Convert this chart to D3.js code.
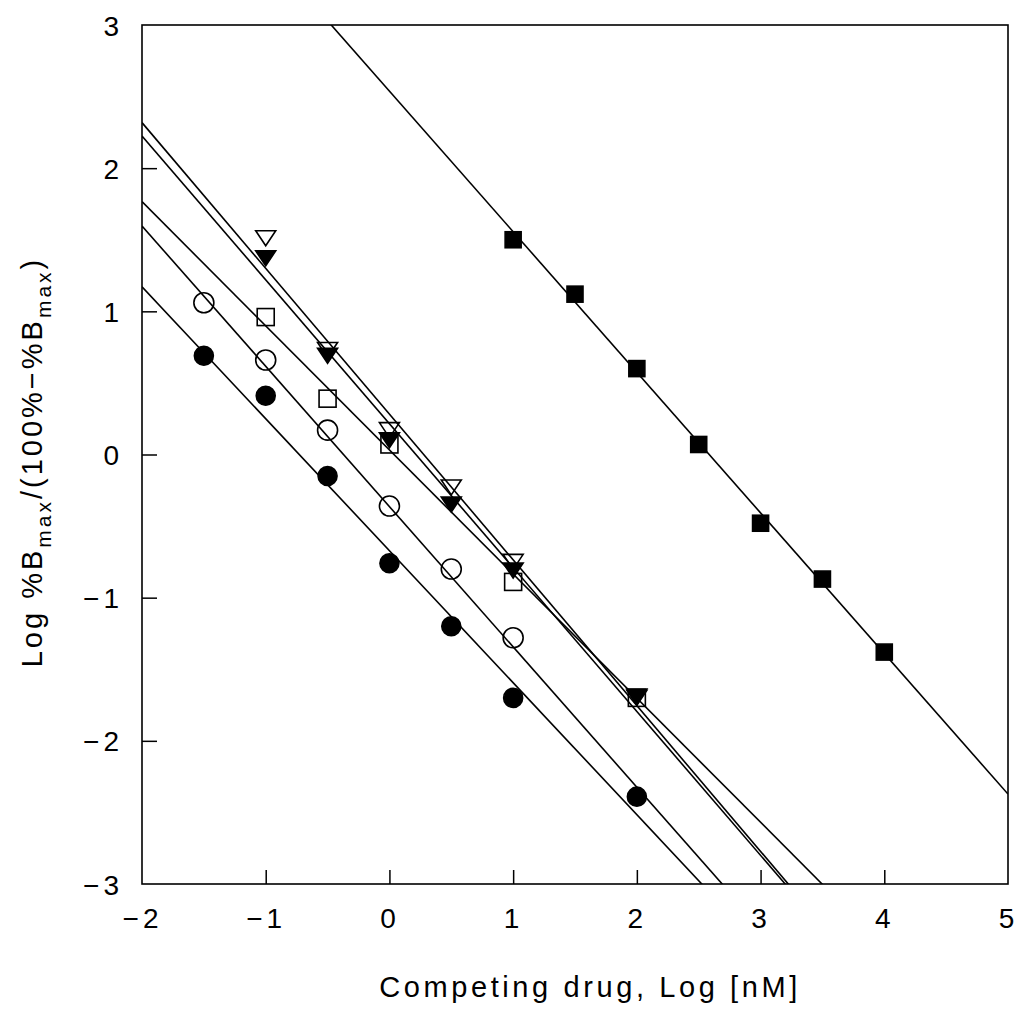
<!DOCTYPE html>
<html>
<head>
<meta charset="utf-8">
<script src="https://cdn.jsdelivr.net/npm/d3@7"></script>
<style>
  html, body { margin: 0; padding: 0; background: #fff; }
  svg { display: block; }
  text { font-family: "Liberation Sans", Arial, sans-serif; fill: #000; }
</style>
</head>
<body>
<svg id="chart" width="1026" height="1011"></svg>
<script>
// ---------- data ----------
const xTicks = [-2, -1, 0, 1, 2, 3, 4, 5];
const yTicks = [-3, -2, -1, 0, 1, 2, 3];

const xFilledSquare = [1, 1.5, 2, 2.5, 3, 3.5, 4];
const yFilledSquare = [1.50, 1.12, 0.60, 0.07, -0.48, -0.87, -1.38];

const xFilledCircle = [-1.5, -1, -0.5, 0, 0.5, 1, 2];
const yFilledCircle = [0.69, 0.41, -0.15, -0.76, -1.20, -1.70, -2.39];

const xOpenCircle = [-1.5, -1, -0.5, 0, 0.5, 1];
const yOpenCircle = [1.06, 0.66, 0.17, -0.36, -0.80, -1.28];

const xOpenSquare = [-1, -0.5, 0, 1, 2];
const yOpenSquare = [0.96, 0.39, 0.07, -0.89, -1.70];

const xOpenTriangle = [-1, -0.5, 0, 0.5, 1, 2];
const yOpenTriangle = [1.51, 0.73, 0.17, -0.23, -0.75, -1.69];

const xFilledTriangle = [-1, -0.5, 0, 0.5, 1, 2];
const yFilledTriangle = [1.37, 0.69, 0.10, -0.35, -0.81, -1.70];

// regression lines: intercept (at x = 0) and slope
const lineNames      = ["filledSquare", "filledCircle", "openCircle", "openSquare", "openTriangle", "filledTriangle"];
const lineIntercepts = [2.538, -0.672, -0.364, 0.032, 0.282, 0.215];
const lineSlopes     = [-0.982, -0.922, -0.980, -0.867, -1.018, -1.005];

// ---------- layout ----------
const svg = d3.select("#chart");
const mLeft = 142, mRight = 1008, mTop = 25, mBottom = 884;

const x = d3.scaleLinear().domain([-2, 5]).range([mLeft, mRight]);
const y = d3.scaleLinear().domain([-3, 3]).range([mBottom, mTop]);

svg.append("defs").append("clipPath").attr("id", "plotclip")
  .append("rect").attr("x", mLeft).attr("y", mTop)
  .attr("width", mRight - mLeft).attr("height", mBottom - mTop);

// ---------- axes ----------
const fmt = d => d < 0 ? "\u2212" + Math.abs(d) : String(d);

const xAxis = svg.append("g").attr("transform", `translate(0,${mBottom})`)
  .call(d3.axisBottom(x).tickValues(xTicks).tickSizeInner(-14).tickSizeOuter(0).tickFormat(fmt));
xAxis.select(".domain").remove();
xAxis.selectAll(".tick line").attr("stroke", "#000").attr("stroke-width", 1.5);
xAxis.selectAll(".tick text").attr("y", 44).attr("dy", 0)
  .style("font-size", "28px").attr("letter-spacing", "4px");

const yAxis = svg.append("g").attr("transform", `translate(${mLeft},0)`)
  .call(d3.axisLeft(y).tickValues(yTicks).tickSizeInner(-15).tickSizeOuter(0).tickFormat(fmt));
yAxis.select(".domain").remove();
yAxis.selectAll(".tick line").attr("stroke", "#000").attr("stroke-width", 1.5);
yAxis.selectAll(".tick text").attr("x", -19).attr("dy", "0.36em")
  .style("font-size", "28px").attr("letter-spacing", "4px");
xAxis.selectAll(".tick").filter(d => d === -2 || d === 5).select("line").remove();
yAxis.selectAll(".tick").filter(d => d === -3 || d === 3).select("line").remove();

// frame
svg.append("rect").attr("x", mLeft).attr("y", mTop)
  .attr("width", mRight - mLeft).attr("height", mBottom - mTop)
  .attr("fill", "none").attr("stroke", "#000").attr("stroke-width", 1.6);

// ---------- fitted lines ----------
const plot = svg.append("g").attr("clip-path", "url(#plotclip)");
const lineGen = d3.line().x(d => x(d[0])).y(d => y(d[1]));
lineNames.forEach((n, i) => {
  const pts = [-2, 5].map(v => [v, lineIntercepts[i] + lineSlopes[i] * v]);
  plot.append("path").attr("d", lineGen(pts))
    .attr("fill", "none").attr("stroke", "#000").attr("stroke-width", 1.6);
});

// ---------- markers ----------
const zip = (xs, ys) => xs.map((v, i) => [v, ys[i]]);
const markers = svg.append("g");

function circles(data, filled) {
  markers.selectAll(null).data(data).enter().append("circle")
    .attr("cx", d => x(d[0])).attr("cy", d => y(d[1])).attr("r", filled ? 9.5 : 10)
    .attr("fill", filled ? "#000" : "none").attr("stroke", "#000").attr("stroke-width", 1.6);
}
function squares(data, filled, s) {
  markers.selectAll(null).data(data).enter().append("rect")
    .attr("x", d => x(d[0]) - s / 2).attr("y", d => y(d[1]) - s / 2)
    .attr("width", s).attr("height", s)
    .attr("fill", filled ? "#000" : "none").attr("stroke", "#000").attr("stroke-width", 1.6);
}
function triangles(data, filled) {
  const w = 20, h = 15;
  markers.selectAll(null).data(data).enter().append("path")
    .attr("d", d => {
      const cx = x(d[0]), cy = y(d[1]);
      return `M${cx - w / 2},${cy - h / 2}L${cx + w / 2},${cy - h / 2}L${cx},${cy + h / 2}Z`;
    })
    .attr("fill", filled ? "#000" : "none").attr("stroke", "#000").attr("stroke-width", 1.6);
}

circles(zip(xOpenCircle, yOpenCircle), false);
circles(zip(xFilledCircle, yFilledCircle), true);
squares(zip(xOpenSquare, yOpenSquare), false, 17);
squares(zip(xFilledSquare, yFilledSquare), true, 16);
triangles(zip(xOpenTriangle, yOpenTriangle), false);
triangles(zip(xFilledTriangle, yFilledTriangle), true);

// ---------- axis titles ----------
svg.append("text")
  .attr("x", 590).attr("y", 997)
  .attr("text-anchor", "middle")
  .style("font-size", "29px").attr("letter-spacing", "3.6px")
  .text("Competing drug, Log [nM]");

const yl = svg.append("text")
  .attr("transform", `translate(42,${462}) rotate(-90)`)
  .attr("text-anchor", "middle")
  .style("font-size", "29px").attr("letter-spacing", "3px");
yl.append("tspan").text("Log %B");
yl.append("tspan").attr("dy", 9).style("font-size", "21px").text("max");
yl.append("tspan").attr("dy", -9).text("/(100%\u2212%B");
yl.append("tspan").attr("dy", 9).style("font-size", "21px").text("max");
yl.append("tspan").attr("dy", -9).text(")");
</script>
</body>
</html>
